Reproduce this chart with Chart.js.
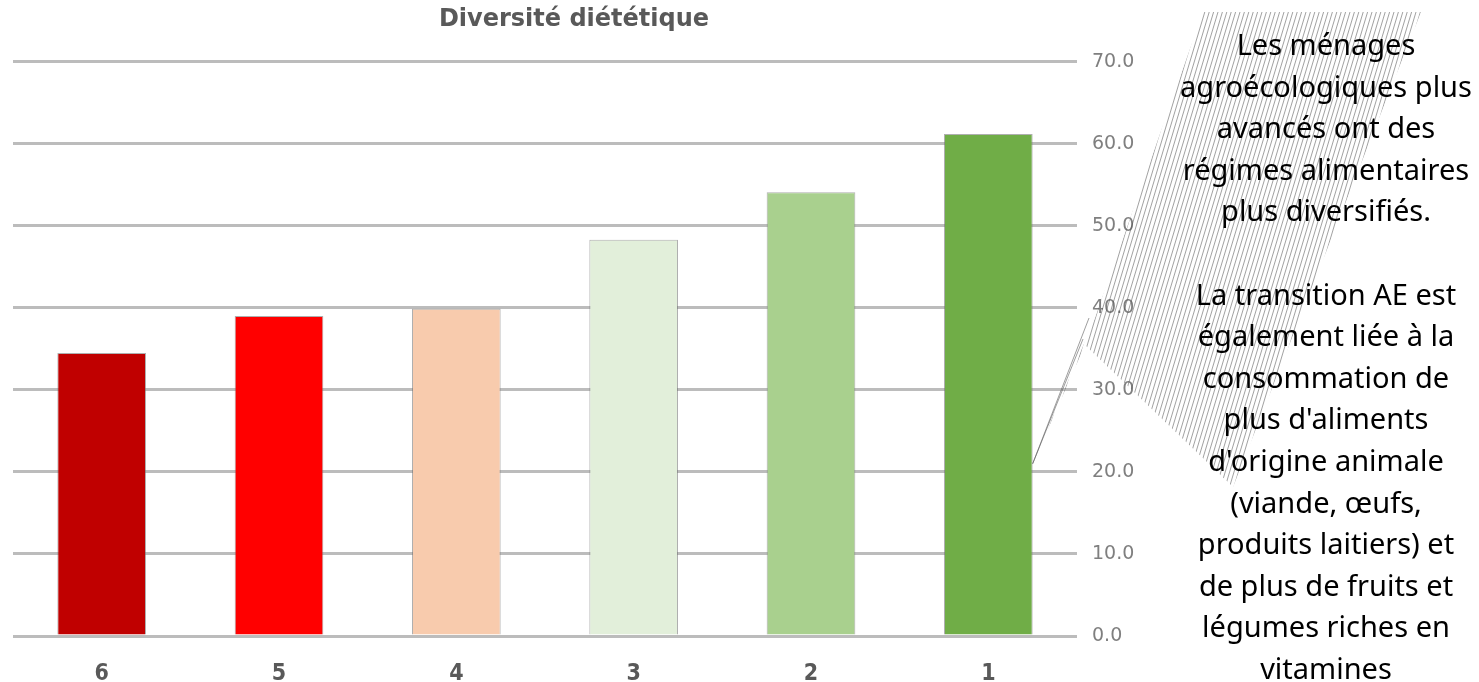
<!DOCTYPE html>
<html lang="fr">
<head>
<meta charset="utf-8">
<title>Diversité diététique</title>
<script src="https://cdn.jsdelivr.net/npm/chart.js@4/dist/chart.umd.min.js"></script>
<style>
  html, body { margin: 0; padding: 0; background: #ffffff; overflow: hidden; }
  #wrap { position: relative; width: 1479px; height: 682px; }
  #chart { position: absolute; left: 0; top: 0; }
  #note {
    position: absolute;
    left: 1126px;
    top: 23px;
    width: 400px;
    text-align: center;
    font-family: "Noto Sans", "Open Sans", sans-serif;
    font-size: 29px;
    line-height: 41.6px;
    color: #000000;
    white-space: pre-line;
  }
</style>
</head>
<body>
<div id="wrap">
  <canvas id="chart" width="1479" height="682"></canvas>
  <div id="note">Les ménages
agroécologiques plus
avancés ont des
régimes alimentaires
plus diversifiés.

La transition AE est
également liée à la
consommation de
plus d'aliments
d'origine animale
(viande, œufs,
produits laitiers) et
de plus de fruits et
légumes riches en
vitamines</div>
</div>
<script>
// Households grouped by agroecological transition level (6 = least advanced, 1 = most)
const categories = ['6', '5', '4', '3', '2', '1'];
// Dietary diversity score per group
const dietDiversity = [34.5, 39.0, 39.9, 48.3, 54.1, 61.2];
// Red-to-green ramp, one colour per group
const barColors = ['#C00000', '#FF0000', '#F8CBAD', '#E2EFDA', '#A9D08E', '#70AD47'];
// Right-hand axis range
const yMin = 0;
const yMax = 70;
const yStep = 10;

// Speech-bubble outline (canvas pixels); the tail tip is attached to the last bar
const bubble = {
  body: [[1203, 12], [1421, 12], [1233, 487], [1085, 345]],
  tailBase: [1095, 318],
  tailValue: 21
};

const calloutPlugin = {
  id: 'hatchedCallout',
  afterDraw(chart) {
    const ctx = chart.ctx;
    const meta = chart.getDatasetMeta(0);
    const lastBar = meta.data[meta.data.length - 1];
    const tipX = lastBar.x + lastBar.width / 2;
    const tipY = chart.scales.y.getPixelForValue(bubble.tailValue);
    const b = bubble.body;

    ctx.save();
    ctx.beginPath();
    ctx.moveTo(b[0][0], b[0][1]);
    ctx.lineTo(b[1][0], b[1][1]);
    ctx.lineTo(b[2][0], b[2][1]);
    ctx.lineTo(b[3][0], b[3][1]);
    ctx.lineTo(tipX, tipY);
    ctx.lineTo(bubble.tailBase[0], bubble.tailBase[1]);
    ctx.closePath();
    ctx.save();
    ctx.clip();

    // upward diagonal hatch fill
    ctx.strokeStyle = 'rgba(80,80,80,0.6)';
    ctx.lineWidth = 0.9;
    const slant = 0.3;
    ctx.beginPath();
    for (let x = 850; x < 1500; x += 4.4) {
      ctx.moveTo(x, 520);
      ctx.lineTo(x + slant * 520, 0);
    }
    ctx.stroke();
    ctx.restore();

    // thin edges along the pointer
    ctx.strokeStyle = 'rgba(80,80,80,0.7)';
    ctx.lineWidth = 0.8;
    ctx.beginPath();
    ctx.moveTo(b[3][0] - 2, b[3][1] - 6);
    ctx.lineTo(tipX, tipY);
    ctx.lineTo(bubble.tailBase[0] - 6, bubble.tailBase[1]);
    ctx.stroke();
    ctx.restore();
  }
};

new Chart(document.getElementById('chart'), {
  type: 'bar',
  data: {
    labels: categories,
    datasets: [{
      data: dietDiversity,
      backgroundColor: barColors,
      borderColor: 'rgba(110,110,110,0.55)',
      borderWidth: 1,
      barPercentage: 0.5,
      categoryPercentage: 1.0
    }]
  },
  options: {
    responsive: false,
    animation: false,
    layout: { padding: { left: 13, right: 344, top: 0, bottom: 0 } },
    plugins: {
      legend: { display: false },
      tooltip: { enabled: false },
      title: {
        display: true,
        text: 'Diversité diététique',
        color: '#595959',
        font: { family: '"DejaVu Sans", sans-serif', size: 24, weight: 'bold' },
        padding: { top: 5, bottom: 28 }
      }
    },
    scales: {
      x: {
        grid: { display: false },
        border: { display: false },
        ticks: {
          color: '#595959',
          padding: 16,
          font: { family: '"DejaVu Sans Condensed", "Liberation Sans Narrow", "DejaVu Sans", sans-serif', size: 23, weight: 'bold' }
        },
        afterFit(scale) { scale.height = 46; }
      },
      y: {
        position: 'right',
        min: yMin,
        max: yMax,
        grid: { color: '#bcbcbc', lineWidth: 3, drawTicks: false },
        border: { display: false },
        ticks: {
          stepSize: yStep,
          padding: 15,
          color: '#7f7f7f',
          font: { family: '"DejaVu Sans", sans-serif', size: 19 },
          callback: v => Number(v).toFixed(1)
        },
        afterFit(scale) { scale.width = 58; }
      }
    }
  },
  plugins: [calloutPlugin]
});
</script>
</body>
</html>
